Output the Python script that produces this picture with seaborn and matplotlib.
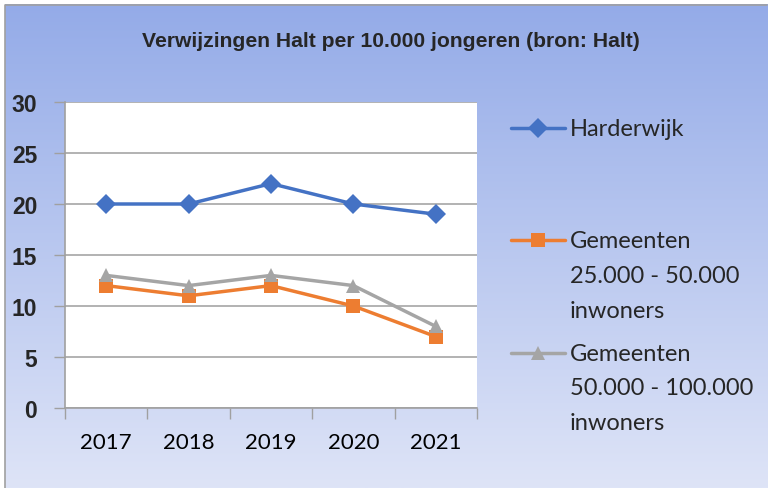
import numpy as np
import pandas as pd
import matplotlib
matplotlib.use('Agg')
import matplotlib.pyplot as plt
import seaborn as sns

jaren = ['2017', '2018', '2019', '2020', '2021']
harderwijk = [20, 20, 22, 20, 19]
gem_25_50 = [12, 11, 12, 10, 7]
gem_50_100 = [13, 12, 13, 12, 8]

reeksen = ['Harderwijk', 'Gemeenten 25.000 - 50.000 inwoners', 'Gemeenten 50.000 - 100.000 inwoners']
legend_labels = ['Harderwijk\n\n', 'Gemeenten\n25.000 - 50.000\ninwoners', 'Gemeenten\n50.000 - 100.000\ninwoners']
kleuren = ['#4472C4', '#ED7D31', '#A5A5A5']
markers = ['D', 's', '^']
y_ticks = [0, 5, 10, 15, 20, 25, 30]

df = pd.DataFrame({
    'jaar': jaren * 3,
    'waarde': harderwijk + gem_25_50 + gem_50_100,
    'reeks': [reeksen[0]] * 5 + [reeksen[1]] * 5 + [reeksen[2]] * 5,
})

sns.set_style('white')
plt.rcParams['font.family'] = ['Lato', 'DejaVu Sans']

fig = plt.figure(figsize=(7.69, 4.89), dpi=100)

# achtergrond met verloop
bg = fig.add_axes([0, 0, 1, 1], zorder=-2)
grad = np.linspace(0, 1, 256).reshape(-1, 1)
cmap = matplotlib.colors.LinearSegmentedColormap.from_list('bg', ['#94ABE8', '#DEE4F7'])
bg.imshow(grad, aspect='auto', cmap=cmap, extent=[4.5 / 769, 767 / 769, 0, 1 - 5.5 / 489])
bg.set_xlim(0, 1)
bg.set_ylim(0, 1)
bg.plot([4.5 / 769, 4.5 / 769, 767 / 769], [0, 1 - 5.5 / 489, 1 - 5.5 / 489], color='#A0A0A0', lw=1.2)
bg.axis('off')

ax = fig.add_axes([65 / 769, 1 - 409 / 489, 412 / 769, 306 / 489])
ax.set_facecolor('white')

sns.lineplot(data=df, x='jaar', y='waarde', hue='reeks', style='reeks',
             palette=dict(zip(reeksen, kleuren)), markers=dict(zip(reeksen, markers)),
             dashes=False, linewidth=2.5, markersize=10, markeredgewidth=0,
             sort=False, legend=False, ax=ax, zorder=3)

ax.set_xlim(-0.5, 4.5)
ax.set_ylim(0, 30)
ax.set_yticks(y_ticks)
ax.set_yticklabels([str(v) for v in y_ticks], fontweight='bold', fontsize=16.5,
                   family=['Liberation Sans', 'DejaVu Sans'])
ax.set_xticks(range(len(jaren)))
ax.set_xticklabels(jaren)
ax.set_xticks(np.arange(-0.5, 5, 1), minor=True)
ax.tick_params(axis='x', which='major', length=0, pad=17, labelsize=16, labelcolor='black')
ax.tick_params(axis='x', which='minor', length=8, width=1, color='#A0A0A0', direction='out', bottom=True)
ax.tick_params(axis='y', length=8, width=1, color='#A0A0A0', direction='out', left=True, pad=12)
ax.yaxis.grid(True, color='#A6A6A6', linewidth=1.2, zorder=0)
ax.set_axisbelow(True)
ax.set_xlabel('')
ax.set_ylabel('')
for side in ['top', 'right']:
    ax.spines[side].set_visible(False)
for side in ['left', 'bottom']:
    ax.spines[side].set_color('#A0A0A0')
    ax.spines[side].set_linewidth(1.2)

fig.text(391 / 769, 1 - 42 / 489, 'Verwijzingen Halt per 10.000 jongeren (bron: Halt)',
         ha='center', va='center', fontsize=15.2, fontweight='bold',
         family=['Liberation Sans Narrow', 'Liberation Sans'])

leg = fig.legend(handles=ax.get_lines()[:3], labels=legend_labels, loc='upper left',
                 bbox_to_anchor=(511 / 769, 1 - 119 / 489), frameon=False,
                 fontsize=17, handlelength=2.3, handletextpad=0.2, handleheight=1.2,
                 labelspacing=0.94, borderpad=0, borderaxespad=0)
for t in leg.get_texts():
    t.set_linespacing(1.8)
for col in leg._legend_handle_box.get_children():
    for row in col.get_children():
        row.align = 'top'

fig.savefig('out.png', dpi=100)
